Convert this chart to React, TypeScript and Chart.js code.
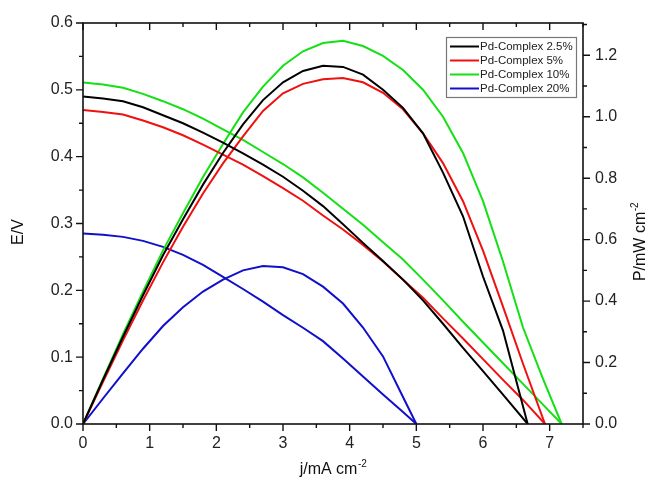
import React, { useEffect, useRef } from 'react';
import { Chart, registerables } from 'chart.js';

Chart.register(...registerables);

// ---------- data ----------
const seriesNames = ['Pd-Complex 2.5%', 'Pd-Complex 5%', 'Pd-Complex 10%', 'Pd-Complex 20%'];
const seriesColors = ['#000000', '#f01010', '#14e014', '#1010cc'];

const jBlack = [0, 0.3, 0.6, 0.9, 1.2, 1.5, 1.8, 2.1, 2.4, 2.7, 3.0, 3.3, 3.6, 3.9, 4.2, 4.5, 4.8, 5.1, 5.4, 5.7, 6.0, 6.3, 6.67];
const eBlack = [0.490, 0.487, 0.483, 0.474, 0.462, 0.450, 0.436, 0.421, 0.405, 0.388, 0.370, 0.349, 0.326, 0.299, 0.271, 0.244, 0.216, 0.185, 0.150, 0.114, 0.079, 0.044, 0];
const pBlack = [0, 0.144, 0.284, 0.419, 0.549, 0.666, 0.779, 0.882, 0.975, 1.054, 1.112, 1.149, 1.166, 1.162, 1.137, 1.088, 1.029, 0.946, 0.818, 0.676, 0.480, 0.304, 0];

const jRed = [0, 0.3, 0.6, 0.9, 1.2, 1.5, 1.8, 2.1, 2.4, 2.7, 3.0, 3.3, 3.6, 3.9, 4.2, 4.5, 4.8, 5.1, 5.4, 5.7, 6.0, 6.3, 6.6, 6.93];
const eRed = [0.470, 0.467, 0.463, 0.454, 0.444, 0.432, 0.418, 0.403, 0.388, 0.371, 0.353, 0.334, 0.312, 0.291, 0.268, 0.243, 0.216, 0.189, 0.158, 0.128, 0.097, 0.066, 0.036, 0];
const pRed = [0, 0.137, 0.272, 0.402, 0.526, 0.642, 0.750, 0.848, 0.936, 1.019, 1.076, 1.107, 1.122, 1.126, 1.112, 1.078, 1.024, 0.946, 0.849, 0.725, 0.564, 0.382, 0.196, 0];

const jGreen = [0, 0.3, 0.6, 0.9, 1.2, 1.5, 1.8, 2.1, 2.4, 2.7, 3.0, 3.3, 3.6, 3.9, 4.2, 4.5, 4.8, 5.1, 5.4, 5.7, 6.0, 6.3, 6.6, 6.9, 7.18];
const eGreen = [0.511, 0.508, 0.503, 0.494, 0.483, 0.471, 0.457, 0.441, 0.425, 0.407, 0.389, 0.369, 0.346, 0.322, 0.298, 0.272, 0.246, 0.216, 0.185, 0.153, 0.122, 0.091, 0.060, 0.029, 0];
const pGreen = [0, 0.147, 0.292, 0.431, 0.565, 0.686, 0.804, 0.911, 1.014, 1.098, 1.166, 1.213, 1.240, 1.247, 1.230, 1.198, 1.152, 1.088, 1.000, 0.882, 0.725, 0.529, 0.314, 0.147, 0];

const jBlue = [0, 0.3, 0.6, 0.9, 1.2, 1.5, 1.8, 2.1, 2.4, 2.7, 3.0, 3.3, 3.6, 3.9, 4.2, 4.5, 4.8, 5.0];
const eBlue = [0.285, 0.283, 0.280, 0.274, 0.265, 0.253, 0.238, 0.220, 0.202, 0.183, 0.163, 0.144, 0.124, 0.098, 0.071, 0.044, 0.018, 0];
const pBlue = [0, 0.083, 0.165, 0.245, 0.319, 0.380, 0.431, 0.470, 0.500, 0.514, 0.510, 0.488, 0.447, 0.392, 0.314, 0.220, 0.088, 0];

const xTickValues = [0, 1, 2, 3, 4, 5, 6, 7];
const eTickValues = [0, 0.1, 0.2, 0.3, 0.4, 0.5, 0.6];
const pTickValues = [0, 0.2, 0.4, 0.6, 0.8, 1.0, 1.2];

const xTitle = 'j/mA cm';
const xTitleSup = '-2';
const eTitle = 'E/V';
const pTitle = 'P/mW cm';
const pTitleSup = '-2';

const FONT = '"Liberation Sans", Arial, Helvetica, sans-serif';

function pts(j: number[], v: number[]) {
  return j.map((x, i) => ({ x, y: v[i] }));
}

const decorPlugin = {
  id: 'decor',
  afterDraw(chart: any) {
    const ctx = chart.ctx as CanvasRenderingContext2D;
    const x = chart.scales.x;
    const yE = chart.scales.yE;
    const yP = chart.scales.yP;
    const a = chart.chartArea;
    ctx.save();
    ctx.strokeStyle = '#111';
    ctx.lineWidth = 1.6;
    ctx.strokeRect(a.left, a.top, a.right - a.left, a.bottom - a.top);

    ctx.lineWidth = 1.4;
    ctx.beginPath();
    // x ticks: bottom outward, top inward
    for (let k = 0; k <= 15; k++) {
      const v = k * 0.5;
      if (v > x.max) break;
      const px = x.getPixelForValue(v);
      const len = k % 2 === 0 ? 7 : 4;
      ctx.moveTo(px, a.bottom);
      ctx.lineTo(px, a.bottom + len);
      ctx.moveTo(px, a.top);
      ctx.lineTo(px, a.top + len);
    }
    // left ticks outward
    for (let k = 0; k <= 12; k++) {
      const py = yE.getPixelForValue(k * 0.05);
      const len = k % 2 === 0 ? 7 : 4;
      ctx.moveTo(a.left, py);
      ctx.lineTo(a.left - len, py);
    }
    // right ticks outward
    for (let k = 0; k <= 13; k++) {
      const v = k * 0.1;
      if (v > yP.max) break;
      const py = yP.getPixelForValue(v);
      const len = k % 2 === 0 ? 7 : 4;
      ctx.moveTo(a.right, py);
      ctx.lineTo(a.right + len, py);
    }
    ctx.stroke();

    // titles
    ctx.fillStyle = '#111';
    const drawSup = (main: string, sup: string, cx: number, cy: number, rot: number) => {
      ctx.save();
      ctx.translate(cx, cy);
      ctx.rotate(rot);
      ctx.font = '16px ' + FONT;
      const w1 = ctx.measureText(main).width;
      ctx.font = '10px ' + FONT;
      const w2 = sup ? ctx.measureText(sup).width : 0;
      const total = w1 + w2;
      ctx.textAlign = 'left';
      ctx.textBaseline = 'alphabetic';
      ctx.font = '16px ' + FONT;
      ctx.fillText(main, -total / 2, 0);
      if (sup) {
        ctx.font = '10px ' + FONT;
        ctx.fillText(sup, -total / 2 + w1 + 0.5, -7);
      }
      ctx.restore();
    };
    drawSup(xTitle, xTitleSup, (a.left + a.right) / 2, 474, 0);
    drawSup(eTitle, '', 23, 232, -Math.PI / 2);
    drawSup(pTitle, pTitleSup, 645, 242, -Math.PI / 2);

    // legend
    const lx = 446, ly = 37, lw = 130, lh = 60;
    ctx.fillStyle = '#fff';
    ctx.fillRect(lx, ly, lw, lh);
    ctx.strokeStyle = '#777';
    ctx.lineWidth = 1.2;
    ctx.strokeRect(lx + 0.5, ly + 0.5, lw, lh);
    ctx.font = '11.5px ' + FONT;
    ctx.textAlign = 'left';
    ctx.textBaseline = 'middle';
    seriesNames.forEach((name, i) => {
      const yy = ly + 9.5 + i * 14;
      ctx.strokeStyle = seriesColors[i];
      ctx.lineWidth = 2;
      ctx.beginPath();
      ctx.moveTo(lx + 4, yy);
      ctx.lineTo(lx + 33, yy);
      ctx.stroke();
      ctx.fillStyle = '#222';
      ctx.fillText(name, lx + 34, yy + 0.5);
    });
    ctx.restore();
  },
};

export default function App() {
  const ref = useRef<HTMLCanvasElement>(null);
  useEffect(() => {
    const canvas = ref.current;
    if (!canvas) return;
    const js = [jBlack, jRed, jGreen, jBlue];
    const es = [eBlack, eRed, eGreen, eBlue];
    const ps = [pBlack, pRed, pGreen, pBlue];
    const datasets: any[] = [];
    seriesNames.forEach((name, i) => {
      datasets.push({
        label: name + ' E',
        data: pts(js[i], es[i]),
        yAxisID: 'yE',
        borderColor: seriesColors[i],
        backgroundColor: seriesColors[i],
        borderWidth: 2,
        pointRadius: 0,
        tension: 0,
        fill: false,
      });
      datasets.push({
        label: name + ' P',
        data: pts(js[i], ps[i]),
        yAxisID: 'yP',
        borderColor: seriesColors[i],
        backgroundColor: seriesColors[i],
        borderWidth: 2,
        pointRadius: 0,
        tension: 0,
        fill: false,
      });
    });
    const tickFont = { family: FONT, size: 16 };
    const chart = new Chart(canvas, {
      type: 'line',
      data: { datasets },
      options: {
        responsive: false,
        animation: false,
        devicePixelRatio: 1,
        layout: { padding: { top: 23, left: 0, right: 0, bottom: 0 } },
        plugins: { legend: { display: false }, tooltip: { enabled: false }, title: { display: false } },
        scales: {
          x: {
            type: 'linear',
            min: 0,
            max: 7.5,
            grid: { display: false, drawTicks: false, tickLength: 0 },
            border: { display: false },
            afterBuildTicks: (s: any) => { s.ticks = xTickValues.map((v) => ({ value: v })); },
            afterFit: (s: any) => { s.height = 69; },
            ticks: { font: tickFont, color: '#222', padding: 10, maxRotation: 0, autoSkip: false, callback: (v: any) => String(v) },
          },
          yE: {
            type: 'linear',
            position: 'left',
            min: 0,
            max: 0.6,
            grid: { display: false, drawTicks: false, tickLength: 0 },
            border: { display: false },
            afterBuildTicks: (s: any) => { s.ticks = eTickValues.map((v) => ({ value: v })); },
            afterFit: (s: any) => { s.width = 83; },
            ticks: { font: tickFont, color: '#222', padding: 10, autoSkip: false, callback: (v: any) => Number(v).toFixed(1) },
          },
          yP: {
            type: 'linear',
            position: 'right',
            min: 0,
            max: 1.305,
            grid: { display: false, drawTicks: false, tickLength: 0 },
            border: { display: false },
            afterBuildTicks: (s: any) => { s.ticks = pTickValues.map((v) => ({ value: v })); },
            afterFit: (s: any) => { s.width = 65; },
            ticks: { font: tickFont, color: '#222', padding: 12, autoSkip: false, callback: (v: any) => Number(v).toFixed(1) },
          },
        },
      },
      plugins: [decorPlugin],
    } as any);
    return () => chart.destroy();
  }, []);
  return (
    <div style={{ position: 'fixed', left: 0, top: 0, width: 648, height: 493, background: '#fff' }}>
      <canvas ref={ref} width={648} height={493} style={{ display: 'block' }} />
    </div>
  );
}
